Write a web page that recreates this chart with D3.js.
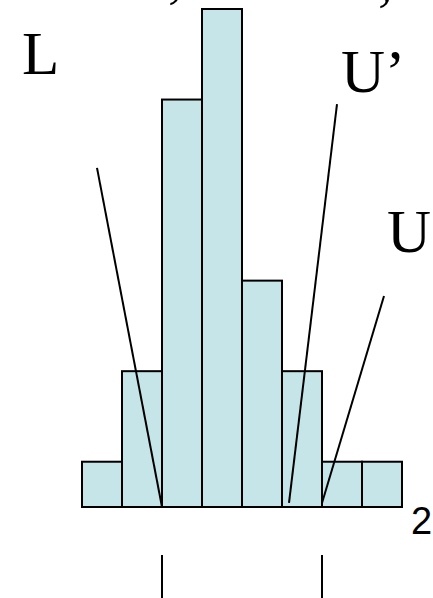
<!DOCTYPE html>
<html>
<head>
<meta charset="utf-8">
<script src="https://cdn.jsdelivr.net/npm/d3@7"></script>
<style>
  body { margin: 0; background: #fff; }
  svg { display: block; }
</style>
</head>
<body>
<div id="chart"></div>
<script>
// histogram bins (index of bin) and counts
const bins = [0, 1, 2, 3, 4, 5, 6, 7];
const counts = [1, 3, 9, 11, 5, 3, 1, 1];

// guide lines, in bin / count units
const lineNames = ["L", "U’", "U"];
const lineStarts = [[0.375, 7.49], [6.375, 8.9], [7.55, 4.66]];
const lineEnds = [[2, 0], [5.175, 0.09], [6, 0.09]];

// marks under the axis at these bin edges
const tickEdges = [2, 6];
const axisLabel = "2";

const width = 433, height = 598;

const svg = d3.select("#chart")
    .append("svg")
    .attr("width", width)
    .attr("height", height);

svg.append("rect")
    .attr("width", width)
    .attr("height", height)
    .attr("fill", "#fff");

const x = d3.scaleLinear().domain([0, 8]).range([82, 402]);
const y = d3.scaleLinear().domain([0, 11]).range([507, 9]);

// bars
svg.selectAll("rect.bar")
    .data(bins)
    .enter()
    .append("rect")
    .attr("class", "bar")
    .attr("x", d => x(d))
    .attr("y", d => y(counts[d]))
    .attr("width", d => x(d + 1) - x(d))
    .attr("height", d => y(0) - y(counts[d]))
    .attr("fill", "#c6e5e8")
    .attr("stroke", "#000")
    .style("stroke-width", "2px");

// slanted guide lines
svg.selectAll("line.guide")
    .data(lineNames)
    .enter()
    .append("line")
    .attr("class", "guide")
    .attr("x1", (d, i) => x(lineStarts[i][0]))
    .attr("y1", (d, i) => y(lineStarts[i][1]))
    .attr("x2", (d, i) => x(lineEnds[i][0]))
    .attr("y2", (d, i) => y(lineEnds[i][1]))
    .attr("stroke", "#000")
    .style("stroke-width", "2px");

// labels for the lines
const labelPos = [[22, 74], [341, 92], [387, 252]];
svg.selectAll("text.name")
    .data(lineNames)
    .enter()
    .append("text")
    .attr("class", "name")
    .attr("x", (d, i) => labelPos[i][0])
    .attr("y", (d, i) => labelPos[i][1])
    .style("font-family", "'Liberation Serif', 'Times New Roman', serif")
    .style("font-size", "61px")
    .attr("fill", "#000")
    .text(d => d);

// cut-off text at the very top (as in the source picture)
svg.append("text")
    .attr("x", 168).attr("y", -4)
    .style("font-family", "'Liberation Serif', serif")
    .style("font-size", "60px")
    .text(",");
svg.append("text")
    .attr("x", 378).attr("y", -1)
    .style("font-family", "'Liberation Serif', serif")
    .style("font-size", "60px")
    .text(",");

// axis label
svg.append("text")
    .attr("x", 411)
    .attr("y", 534)
    .style("font-family", "'Liberation Sans', Arial, sans-serif")
    .style("font-size", "38px")
    .attr("fill", "#000")
    .text(axisLabel);

// tick marks below
svg.selectAll("line.tick")
    .data(tickEdges)
    .enter()
    .append("line")
    .attr("class", "tick")
    .attr("x1", d => x(d))
    .attr("x2", d => x(d))
    .attr("y1", 555)
    .attr("y2", height)
    .attr("stroke", "#000")
    .style("stroke-width", "2px");
</script>
</body>
</html>
